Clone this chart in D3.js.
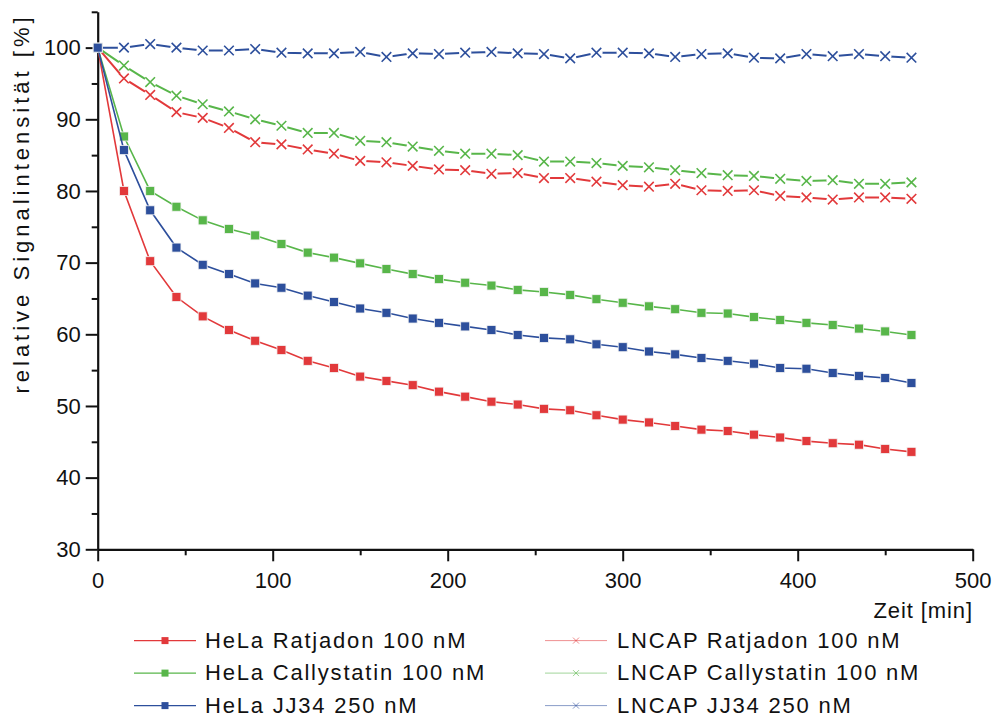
<!DOCTYPE html>
<html>
<head>
<meta charset="utf-8">
<script src="https://cdn.jsdelivr.net/npm/d3@7"></script>
<style>
  html, body { margin: 0; padding: 0; background: #fff; }
  svg { display: block; font-family: "Liberation Sans", Arial, sans-serif; }
</style>
</head>
<body>
<svg id="chart" width="996" height="718"></svg>
<script>
// ---- data ----
const time = [0, 15, 30, 45, 60, 75, 90, 105, 120, 135, 150, 165, 180, 195, 210, 225,
              240, 255, 270, 285, 300, 315, 330, 345, 360, 375, 390, 405, 420, 435, 450, 465];

const helaRatjadon = [100, 80.0, 70.2, 65.2, 62.5, 60.6, 59.1, 57.8, 56.3, 55.3, 54.1, 53.5, 52.9, 52.0, 51.3, 50.6,
                      50.2, 49.6, 49.4, 48.7, 48.1, 47.7, 47.2, 46.7, 46.5, 46.0, 45.6, 45.1, 44.8, 44.6, 44.0, 43.6];
const helaCallystatin = [100, 87.6, 80.0, 77.8, 75.9, 74.7, 73.8, 72.6, 71.4, 70.7, 69.9, 69.1, 68.4, 67.7, 67.2, 66.8,
                         66.2, 65.9, 65.5, 64.9, 64.4, 63.9, 63.5, 63.0, 62.9, 62.4, 62.0, 61.6, 61.3, 60.8, 60.4, 59.9];
const helaJJ34 = [100, 85.7, 77.3, 72.1, 69.7, 68.4, 67.1, 66.5, 65.4, 64.5, 63.6, 63.0, 62.2, 61.6, 61.1, 60.6,
                  59.9, 59.5, 59.3, 58.6, 58.2, 57.6, 57.2, 56.7, 56.3, 55.9, 55.3, 55.2, 54.6, 54.2, 53.9, 53.2];
const lncapRatjadon = [100, 95.7, 93.4, 91.0, 90.2, 88.8, 86.8, 86.5, 85.8, 85.2, 84.2, 84.0, 83.5, 83.0, 82.9, 82.4,
                       82.5, 81.8, 81.8, 81.3, 80.8, 80.6, 81.0, 80.1, 80.0, 80.1, 79.3, 79.1, 78.8, 79.1, 79.1, 78.9];
const lncapCallystatin = [100, 97.5, 95.2, 93.3, 92.1, 91.1, 90.0, 89.1, 88.1, 88.1, 87.0, 86.8, 86.2, 85.6, 85.2, 85.2,
                          85.0, 84.1, 84.1, 83.9, 83.5, 83.3, 82.9, 82.5, 82.2, 82.1, 81.7, 81.4, 81.5, 81.0, 81.0, 81.2];
const lncapJJ34 = [100, 100.0, 100.5, 100.0, 99.6, 99.6, 99.8, 99.3, 99.2, 99.2, 99.4, 98.7, 99.2, 99.1, 99.3, 99.4,
                   99.2, 99.1, 98.5, 99.3, 99.3, 99.2, 98.7, 99.1, 99.2, 98.6, 98.5, 99.1, 98.8, 99.1, 98.8, 98.6];

const seriesNames = ["HeLa Ratjadon 100 nM", "HeLa Callystatin 100 nM", "HeLa JJ34 250 nM",
                     "LNCAP Ratjadon 100 nM", "LNCAP Callystatin 100 nM", "LNCAP JJ34 250 nM"];

const xTicks = [0, 100, 200, 300, 400, 500];
const xMinorTicks = [50, 150, 250, 350, 450];
const yTicks = [30, 40, 50, 60, 70, 80, 90, 100];
const yMinorTicks = [35, 45, 55, 65, 75, 85, 95, 105];

const xLabel = "Zeit [min]";
const yLabel = "relative Signalintensität [%]";

// ---- styles ----
const RED = "#e2393b", GREEN = "#58b64a", BLUE = "#2d4f9c";
const INK = "#111111";

const series = [
  { name: seriesNames[3], values: lncapRatjadon, color: RED, marker: "x" },
  { name: seriesNames[4], values: lncapCallystatin, color: GREEN, marker: "x" },
  { name: seriesNames[5], values: lncapJJ34, color: BLUE, marker: "x" },
  { name: seriesNames[0], values: helaRatjadon, color: RED, marker: "square" },
  { name: seriesNames[1], values: helaCallystatin, color: GREEN, marker: "square" },
  { name: seriesNames[2], values: helaJJ34, color: BLUE, marker: "square" }
];

const svg = d3.select("#chart");
const x = d3.scaleLinear().domain([0, 500]).range([97.7, 972.7]);
const y = d3.scaleLinear().domain([30, 105]).range([549.3, 11.8]);

// ---- axes ----
function styleAxis(g) {
  g.select(".domain").attr("stroke", INK).attr("stroke-width", 2.2);
  g.selectAll(".tick line").attr("stroke", INK).attr("stroke-width", 2);
  g.selectAll(".tick text").attr("fill", INK).attr("font-size", 22)
    .attr("font-family", '"Liberation Sans", Arial, sans-serif');
}

// minor ticks
svg.append("g").attr("transform", `translate(0,${y(30)})`)
  .call(d3.axisBottom(x).tickValues(xMinorTicks).tickSize(6).tickFormat(""))
  .call(g => { g.select(".domain").remove(); g.selectAll(".tick line").attr("stroke", INK).attr("stroke-width", 2); });
svg.append("g").attr("transform", `translate(${x(0)},0)`)
  .call(d3.axisLeft(y).tickValues(yMinorTicks).tickSize(6).tickFormat(""))
  .call(g => { g.select(".domain").remove(); g.selectAll(".tick line").attr("stroke", INK).attr("stroke-width", 2); });

// major axes
svg.append("g").attr("transform", `translate(0,${y(30)})`)
  .call(d3.axisBottom(x).tickValues(xTicks).tickSize(12).tickSizeOuter(0).tickPadding(11).tickFormat(d3.format("d")))
  .call(styleAxis);
svg.append("g").attr("transform", `translate(${x(0)},0)`)
  .call(d3.axisLeft(y).tickValues(yTicks).tickSize(12).tickSizeOuter(0).tickPadding(5).tickFormat(d3.format("d")))
  .call(styleAxis);

// axis titles
svg.append("text")
  .attr("x", 973).attr("y", 618)
  .attr("text-anchor", "end")
  .attr("font-size", 22).attr("fill", INK)
  .attr("letter-spacing", 0.9)
  .text(xLabel);

svg.append("text")
  .attr("transform", `translate(29,${(12 + 395) / 2}) rotate(-90)`)
  .attr("text-anchor", "middle")
  .attr("font-size", 22).attr("fill", INK)
  .attr("letter-spacing", 4)
  .text(yLabel);

// ---- series ----
const line = d3.line().x((d, i) => x(time[i])).y(d => y(d));
const plot = svg.append("g");

function drawX(g, cx, cy, r, color, w) {
  return g.append("path")
    .attr("d", `M${cx - r},${cy - r}L${cx + r},${cy + r}M${cx - r},${cy + r}L${cx + r},${cy - r}`)
    .attr("stroke", color).attr("stroke-width", w).attr("fill", "none");
}

series.forEach(s => {
  const g = plot.append("g");
  g.append("path")
    .datum(s.values)
    .attr("d", line)
    .attr("fill", "none")
    .attr("stroke", s.color)
    .attr("stroke-width", s.marker === "x" ? 2 : 1.6);
  if (s.marker === "x") {
    s.values.forEach((v, i) => {
      if (i === 0) return;
      g.append("circle").attr("cx", x(time[i])).attr("cy", y(v)).attr("r", 6.2).attr("fill", "#fff");
      drawX(g, x(time[i]), y(v), 4.8, s.color, 1.6);
    });
  } else {
    g.selectAll("rect").data(s.values).enter().append("rect")
      .attr("x", (d, i) => x(time[i]) - 4.5)
      .attr("y", d => y(d) - 4.5)
      .attr("width", 9).attr("height", 9)
      .attr("fill", s.color)
      .attr("stroke", "#f3f3f3").attr("stroke-width", 0.8);
  }
});

// ---- legend ----
const legendRows = [0, 1, 2];
const legend = svg.append("g");
const legendCols = [
  { lx0: 134, lx1: 196, mx: 165, tx: 205, marker: "square", names: seriesNames.slice(0, 3) },
  { lx0: 545, lx1: 607, mx: 576, tx: 617, marker: "x", names: seriesNames.slice(3, 6) }
];
const legendColors = [RED, GREEN, BLUE];
legendCols.forEach(c => {
  legendRows.forEach(r => {
    const ly = 640.6 + r * 32.5;
    const col = legendColors[r];
    if (c.marker === "square") {
      legend.append("line").attr("x1", c.lx0).attr("x2", c.lx1).attr("y1", ly).attr("y2", ly)
        .attr("stroke", col).attr("stroke-width", 1.4);
      legend.append("rect").attr("x", c.mx - 3.5).attr("y", ly - 3.5).attr("width", 7).attr("height", 7)
        .attr("fill", col);
    } else {
      legend.append("line").attr("x1", c.lx0).attr("x2", c.lx1).attr("y1", ly).attr("y2", ly)
        .attr("stroke", col).attr("stroke-width", 1).attr("opacity", 0.55);
      drawX(legend, c.mx, ly, 3, col, 1).attr("opacity", 0.6);
    }
    legend.append("text").attr("x", c.tx).attr("y", ly + 7)
      .attr("font-size", 22).attr("fill", INK).attr("letter-spacing", 1.8)
      .text(c.names[r]);
  });
});
</script>
</body>
</html>
